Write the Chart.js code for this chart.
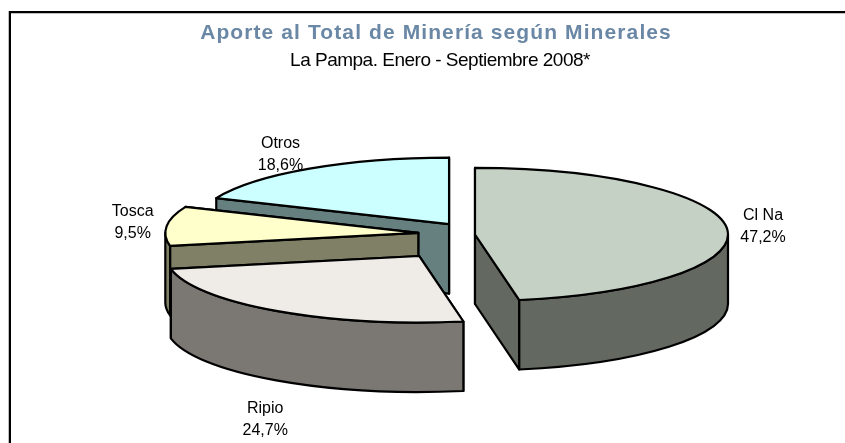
<!DOCTYPE html>
<html><head><meta charset="utf-8">
<style>html,body{margin:0;padding:0;background:#fff}#w{width:845px;height:443px}canvas{display:block}</style>
<script src="https://cdn.jsdelivr.net/npm/chart.js@4/dist/chart.umd.min.js"></script>
</head><body><div id="w"><canvas id="c" width="845" height="443"></canvas></div>
<script>
const categories = ['Cl Na', 'Ripio', 'Tosca', 'Otros'];
const values = [47.2, 24.7, 9.5, 18.6];
const topColors = ['#C5D1C5', '#EFEBE7', '#FFFFCC', '#CCFFFF'];
const sideColors = ['#636860', '#7B7773', '#808066', '#668080'];
const explode = [0, 99, 57, 47];
const labelShiftX = [36, -11, -34, -29];
const labelShiftY = [-2, 109, -3, -14];
const paintOrder = [3, 0, 2, 1];
const titleText = 'Aporte al Total de Minería según Minerales';
const subtitleText = 'La Pampa. Enero - Septiembre 2008*';
const tilt = 0.263, depth = 69.5, pieRadius = 253;
const lineW = 2.2;

function fillStroke(ctx, fill) {
  ctx.fillStyle = fill; ctx.fill();
  ctx.lineWidth = lineW; ctx.strokeStyle = '#000'; ctx.lineJoin = 'round'; ctx.stroke();
}
const pie3d = {
  id: 'pie3d',
  beforeDraw(chart) {
    const ctx = chart.ctx;
    // frame: top and left rules
    ctx.save();
    ctx.fillStyle = '#bdbdbd';
    ctx.fillRect(8, 13, 837, 1);
    ctx.fillRect(8, 11, 1, 432);
    ctx.fillStyle = '#000';
    ctx.fillRect(9, 11, 836, 2);
    ctx.fillRect(9, 11, 2, 432);
    ctx.restore();
    if (!chart.$spaced) {
      chart.$spaced = true;
      const wrap = (box, ls, dx) => {
        const d = box.draw;
        box.draw = function (c) {
          const x = this.ctx; x.save(); x.letterSpacing = ls; x.translate(dx, 0);
          d.call(this, c); x.restore();
        };
      };
      const subs = chart.boxes.filter(b => b.options && b.options.text);
      subs.forEach(b => {
        if (b.options.text === titleText) wrap(b, '1.1px', -39);
        else wrap(b, '-0.5px', -35);
      });
    }
  },
  beforeDatasetsDraw(chart) {
    const ctx = chart.ctx;
    const arcs = chart.getDatasetMeta(0).data;
    paintOrder.forEach(i => {
      const el = arcs[i];
      const { x, y, startAngle: a0, endAngle: a1, outerRadius: R } = el.getProps(['x', 'y', 'startAngle', 'endAngle', 'outerRadius'], true);
      const mid = (a0 + a1) / 2, off = el.options.offset;
      const ax = x + Math.cos(mid) * off, ay = y + Math.sin(mid) * off * tilt;
      const rb = R * tilt;
      // radial faces, back one first
      [a0, a1].sort((p, q) => Math.sin(p) - Math.sin(q)).forEach(t => {
        const ox = ax + R * Math.cos(t), oy = ay + rb * Math.sin(t);
        ctx.beginPath();
        ctx.moveTo(ax, ay); ctx.lineTo(ox, oy); ctx.lineTo(ox, oy + depth); ctx.lineTo(ax, ay + depth);
        ctx.closePath();
        fillStroke(ctx, sideColors[i]);
      });
      // outer band: front half of the rim only
      const b0 = Math.max(a0, 0), b1 = Math.min(a1, Math.PI);
      if (b1 > b0) {
        ctx.beginPath();
        ctx.ellipse(ax, ay, R, rb, 0, b0, b1);
        ctx.ellipse(ax, ay + depth, R, rb, 0, b1, b0, true);
        ctx.closePath();
        fillStroke(ctx, sideColors[i]);
      }
      // top face
      ctx.beginPath();
      ctx.moveTo(ax, ay);
      ctx.ellipse(ax, ay, R, rb, 0, a0, a1);
      ctx.closePath();
      fillStroke(ctx, topColors[i]);
    });
    // data labels
    ctx.save();
    ctx.fillStyle = '#000';
    ctx.font = '16px "Liberation Sans"';
    ctx.textAlign = 'center'; ctx.textBaseline = 'middle';
    arcs.forEach((el, i) => {
      const { x, y, startAngle: a0, endAngle: a1, outerRadius: R } = el.getProps(['x', 'y', 'startAngle', 'endAngle', 'outerRadius'], true);
      const mid = (a0 + a1) / 2, off = el.options.offset;
      const lx = x + Math.cos(mid) * (off + R) + labelShiftX[i];
      const ly = y + Math.sin(mid) * (off + R) * tilt + labelShiftY[i];
      ctx.fillText(categories[i], lx, ly - 11);
      ctx.fillText(values[i].toFixed(1).replace('.', ',') + '%', lx, ly + 11);
    });
    ctx.restore();
    return false;
  }
};
new Chart(document.getElementById('c'), {
  type: 'pie',
  plugins: [pie3d],
  data: {
    labels: categories,
    datasets: [{ data: values, backgroundColor: topColors, offset: explode, borderWidth: 0 }]
  },
  options: {
    responsive: false, animation: false, radius: pieRadius,
    layout: { padding: { left: 105, right: 0, top: 0, bottom: 46 } },
    plugins: {
      legend: { display: false },
      tooltip: { enabled: false },
      title: { display: true, text: titleText, color: '#6A88A5', font: { family: '"Liberation Sans"', size: 21, weight: 'bold', lineHeight: 1.2 }, padding: { top: 21, bottom: 3 } },
      subtitle: { display: true, text: subtitleText, color: '#000', font: { family: '"Liberation Sans"', size: 19, weight: 'normal', lineHeight: 1.2 }, padding: { top: 0, bottom: 0 } }
    }
  }
});
</script></body></html>
